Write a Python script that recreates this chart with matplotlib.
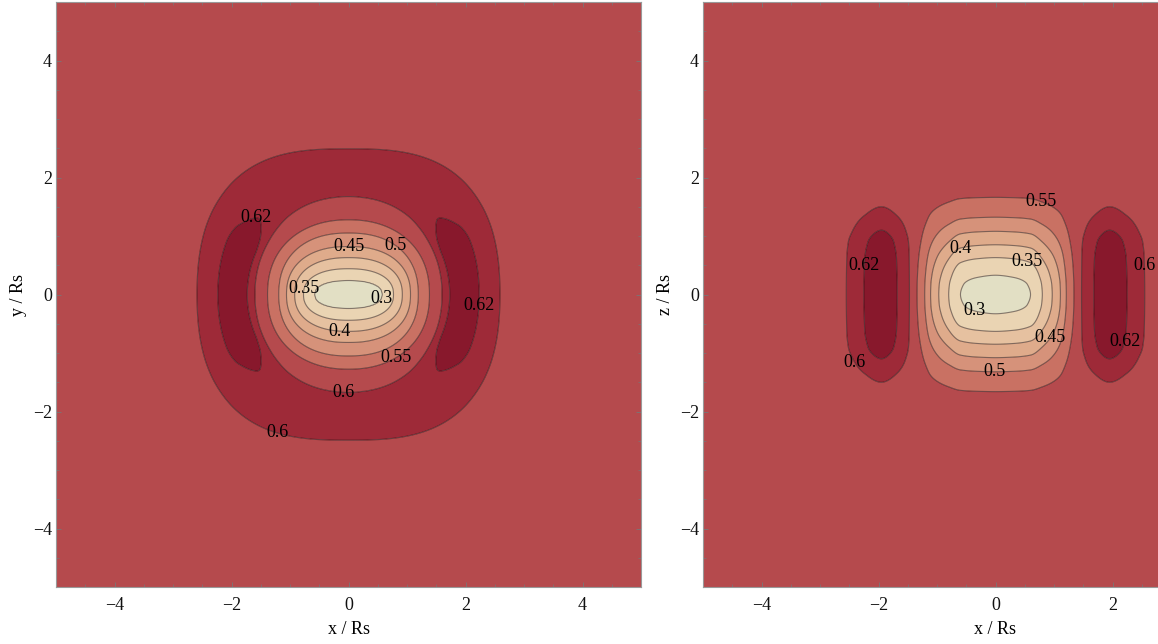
import numpy as np
import matplotlib
matplotlib.use("Agg")
import matplotlib.pyplot as plt
from matplotlib.ticker import MultipleLocator

# ---------------- data ----------------
levels = [0.3, 0.35, 0.4, 0.45, 0.5, 0.55, 0.6, 0.62]
level_labels = ["0.3", "0.35", "0.4", "0.45", "0.5", "0.55", "0.6", "0.62"]
band_colors = ["#E2DFC4", "#EAD4B3", "#E6C1A0", "#DFAB8B", "#D6927A",
               "#C97163", "#B54A4D", "#9E2A38", "#88182C"]

base_value = 0.58      # field far from the centre
center_depth = 0.30    # base - centre value (centre ~0.28)

# Panel 1 (x-y plane): normalised well depth and the semi-axes (along x and y)
# of the contour having that depth, read where the levels cross the axes
xy_well_depth = [1.0, 0.985, 0.933, 0.767, 0.600, 0.433, 0.267, 0.115, 0.035, 0.0]
xy_well_ax = [0.0, 0.30, 0.58, 0.77, 0.92, 1.06, 1.19, 1.39, 1.50, 1.60]
xy_well_ay = [0.0, 0.12, 0.24, 0.44, 0.63, 0.82, 1.05, 1.25, 1.45, 1.67]
# round ring (amplitude above base): inner (rising) and outer (falling) flanks
xy_ring_amp = 0.030
xy_ring_in_pos = [1.20, 1.45, 1.67, 2.05, 5.0]
xy_ring_in_val = [0.0, 0.30, 0.667, 1.0, 1.0]
xy_ring_out_pos = [0.0, 2.05, 2.49, 2.80, 3.20, 5.0]
xy_ring_out_val = [1.0, 1.0, 0.667, 0.30, 0.0, 0.0]
# extra side lobes along x (crescents): radial flanks and angular extent
xy_lobe_amp = 0.025
xy_lobe_in_pos = [1.40, 1.60, 1.73, 1.97, 5.0]
xy_lobe_in_val = [0.0, 0.14, 0.71, 1.0, 1.0]
xy_lobe_out_pos = [0.0, 1.97, 2.22, 2.58, 2.90, 5.0]
xy_lobe_out_val = [1.0, 1.0, 0.52, 0.14, 0.0, 0.0]
xy_lobe_sin_pos = [0.0, 0.40, 0.50, 0.65, 0.80, 1.0]
xy_lobe_sin_val = [1.0, 0.97, 0.85, 0.41, 0.10, 0.0]

# Panel 2 (x-z plane)
xz_well_x_pos = [0.0, 0.30, 0.60, 0.80, 0.97, 1.11, 1.21, 1.34, 1.45, 5.0]
xz_well_x_val = [1.0, 0.985, 0.933, 0.767, 0.600, 0.433, 0.267, 0.10, 0.0, 0.0]
xz_well_z_pos = [0.0, 0.17, 0.33, 0.63, 0.85, 1.08, 1.32, 1.66, 2.10, 5.0]
xz_well_z_val = [1.0, 0.985, 0.933, 0.767, 0.600, 0.433, 0.267, 0.10, 0.0, 0.0]
xz_lobe_amp = 0.055
xz_lobe_x_pos = [1.36, 1.47, 1.68, 1.95, 2.25, 2.55, 2.80, 3.10, 5.0]
xz_lobe_x_val = [0.0, 0.364, 0.727, 1.0, 0.727, 0.364, 0.10, 0.0, 0.0]
xz_lobe_z_pos = [0.0, 0.60, 0.90, 1.10, 1.50, 1.90, 2.30, 5.0]
xz_lobe_z_val = [1.0, 0.98, 0.90, 0.727, 0.364, 0.08, 0.0, 0.0]

ticks_major = [-4, -2, 0, 2, 4]

# label placements (level, x, y) for each panel
xy_label_spots = [(0.62, -1.59, 1.35), (0.62, 2.32, -0.19), (0.45, 0.0, 0.80),
                  (0.5, 0.75, 0.75), (0.35, -0.80, 0.10), (0.3, 0.58, -0.07),
                  (0.4, -0.17, -0.63), (0.55, 0.80, -1.04), (0.6, -0.09, -1.69),
                  (0.6, -1.21, -2.31)]
xz_label_spots = [(0.55, 0.80, 1.65), (0.4, -0.60, 0.80), (0.35, 0.55, 0.57),
                  (0.62, -2.26, 0.50), (0.6, 2.59, 0.50), (0.3, -0.37, -0.36),
                  (0.45, 0.88, -0.71), (0.62, 2.21, -0.80), (0.6, -2.43, -1.18),
                  (0.5, -0.02, -1.33)]

# shape exponents
xy_well_power = 2.3
xy_inner_power = 2.0
xy_outer_power = 2.8


# ---------------- helpers ----------------
def profile(t, knots_x, knots_y):
    """Monotone cubic (Fritsch-Carlson) through the knots, even in t."""
    xk = np.asarray(knots_x, float)
    yk = np.asarray(knots_y, float)
    h = np.diff(xk)
    d = np.diff(yk) / h
    m = np.zeros_like(yk)
    for k in range(1, len(xk) - 1):
        if d[k - 1] * d[k] > 0:
            w1 = 2 * h[k] + h[k - 1]
            w2 = h[k] + 2 * h[k - 1]
            m[k] = (w1 + w2) / (w1 / d[k - 1] + w2 / d[k])
    t = np.clip(np.abs(t), xk[0], xk[-1])
    i = np.clip(np.searchsorted(xk, t, side="right") - 1, 0, len(xk) - 2)
    hh = h[i]
    s = (t - xk[i]) / hh
    h00 = 2 * s**3 - 3 * s**2 + 1
    h10 = s**3 - 2 * s**2 + s
    h01 = -2 * s**3 + 3 * s**2
    h11 = s**3 - s**2
    return h00 * yk[i] + h10 * hh * m[i] + h01 * yk[i + 1] + h11 * hh * m[i + 1]


def nested_well(X, Y, depth, ax_list, ay_list, p):
    """Depth w at each point such that the point lies on the superellipse
    with semi-axes (ax(w), ay(w))."""
    dv = np.asarray(depth[::-1], float)
    axv = np.asarray(ax_list[::-1], float)
    ayv = np.asarray(ay_list[::-1], float)
    lo = np.zeros_like(X)
    hi = np.ones_like(X)
    AX, AY = np.abs(X), np.abs(Y)
    for _ in range(40):
        mid = 0.5 * (lo + hi)
        a = np.maximum(np.interp(mid, dv, axv), 1e-9)
        b = np.maximum(np.interp(mid, dv, ayv), 1e-9)
        inside = (AX / a) ** p + (AY / b) ** p <= 1.0
        lo = np.where(inside, mid, lo)
        hi = np.where(inside, hi, mid)
    return 0.5 * (lo + hi)


def lp_radius(X, Y, p):
    return (np.abs(X) ** p + np.abs(Y) ** p) ** (1.0 / p)


g = np.linspace(-5, 5, 501)
X, Y = np.meshgrid(g, g)

# panel 1 field
rho_in = lp_radius(X, Y, xy_inner_power)
rho_out = lp_radius(X, Y, xy_outer_power)
r = np.hypot(X, Y) + 1e-12
sin_t = np.abs(Y) / r
ring = (profile(rho_in, xy_ring_in_pos, xy_ring_in_val)
        * profile(rho_out, xy_ring_out_pos, xy_ring_out_val))
lobe = (profile(r, xy_lobe_in_pos, xy_lobe_in_val)
        * profile(r, xy_lobe_out_pos, xy_lobe_out_val)
        * profile(sin_t, xy_lobe_sin_pos, xy_lobe_sin_val))
F_xy = (base_value
        - center_depth * nested_well(X, Y, xy_well_depth, xy_well_ax, xy_well_ay, xy_well_power)
        + xy_ring_amp * ring
        + xy_lobe_amp * lobe)

# panel 2 field
F_xz = (base_value
        - center_depth * profile(X, xz_well_x_pos, xz_well_x_val) * profile(Y, xz_well_z_pos, xz_well_z_val)
        + xz_lobe_amp * profile(X, xz_lobe_x_pos, xz_lobe_x_val) * profile(Y, xz_lobe_z_pos, xz_lobe_z_val))

# ---------------- figure ----------------
plt.rcParams["font.family"] = ["Liberation Serif", "DejaVu Serif"]
plt.rcParams["axes.unicode_minus"] = True

W, H = 1158, 644
px_per_unit = 58.5
fig = plt.figure(figsize=(W / 100, H / 100), dpi=100)
ax1 = fig.add_axes([56 / W, 1 - 587 / H, 585 / W, 585 / H])
ax2 = fig.add_axes([703 / W, 1 - 587 / H, (W - 703) / W, 585 / H])
xmax2 = -5.0 + (W - 703) / px_per_unit

fill_levels = [0.0] + levels + [1.0]
fmt = dict(zip(levels, level_labels))

for ax, F, spots, ylab, xmax in [(ax1, F_xy, xy_label_spots, "y / Rs", 5.0),
                                 (ax2, F_xz, xz_label_spots, "z / Rs", xmax2)]:
    ax.contourf(X, Y, F, levels=fill_levels, colors=band_colors, antialiased=True)
    cs = ax.contour(X, Y, F, levels=levels, colors=[(0.1, 0.05, 0.05, 0.5)],
                    linewidths=0.8)
    # horizontal labels placed on the nearest point of the requested contour
    for lev, lx, ly in spots:
        li = levels.index(lev)
        segs = [s for s in cs.allsegs[li] if len(s)]
        if not segs:
            continue
        pts = np.vstack(segs)
        k = np.argmin((pts[:, 0] - lx) ** 2 + (pts[:, 1] - ly) ** 2)
        tx = min(pts[k, 0], xmax - 0.2)
        ax.text(tx, pts[k, 1], fmt[lev], fontsize=13, color="black",
                ha="center", va="center", zorder=5)
    ax.set_xlim(-5, xmax)
    ax.set_ylim(-5, 5)
    ax.set_xticks([t for t in ticks_major if t <= xmax])
    ax.set_yticks(ticks_major)
    ax.xaxis.set_minor_locator(MultipleLocator(0.5))
    ax.yaxis.set_minor_locator(MultipleLocator(0.5))
    ax.tick_params(which="both", direction="in", top=True, right=(ax is ax1),
                   color="#777777", labelsize=13, labelcolor="#111111")
    ax.tick_params(which="major", length=3.5, width=0.6)
    ax.tick_params(which="minor", length=2, width=0.5)
    ax.tick_params(axis="x", pad=7)
    ax.tick_params(axis="y", pad=3)
    for sp in ax.spines.values():
        sp.set_color("#999999")
        sp.set_linewidth(0.8)
    if ax is ax2:
        ax.spines["right"].set_visible(False)
    ax.set_xlabel("x / Rs", fontsize=13)
    ax.set_ylabel(ylab, fontsize=13, labelpad=4)
    ax.xaxis.set_label_coords(5.0 / (xmax + 5.0), -0.058)

fig.savefig("out.png", dpi=100)
